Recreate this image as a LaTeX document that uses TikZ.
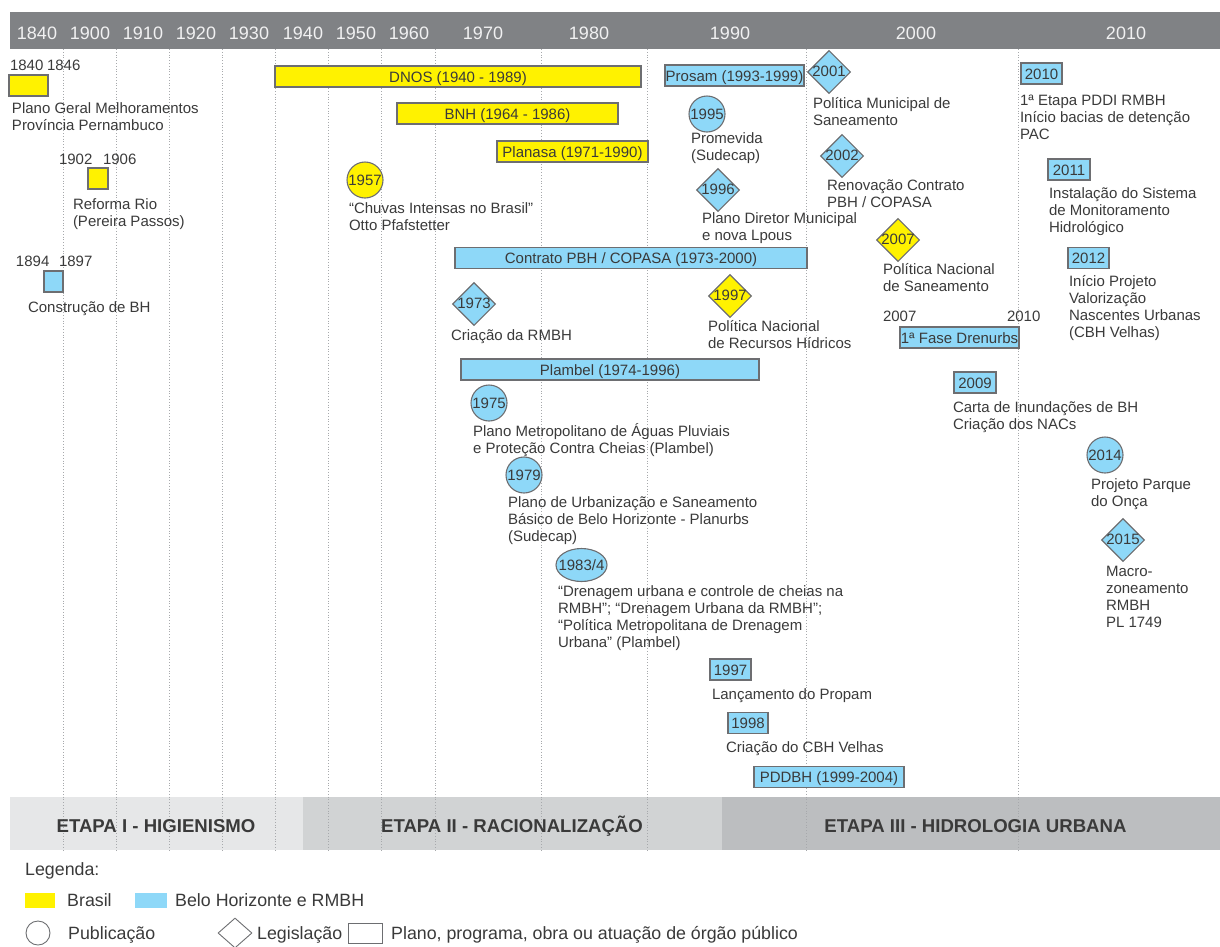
\documentclass[tikz,border=0pt]{standalone}
\usepackage{fontspec}
\setmainfont{Liberation Sans}
\usetikzlibrary{shapes.geometric}
\definecolor{yel}{HTML}{FFF200}
\definecolor{blu}{HTML}{8ED8F8}
\definecolor{edgec}{HTML}{6D6E71}
\definecolor{txtc}{HTML}{3A3A3A}
\definecolor{hdr}{HTML}{808285}
\definecolor{hdrtxt}{HTML}{F1F1F2}
\definecolor{bandA}{HTML}{E6E7E8}
\definecolor{bandB}{HTML}{D1D3D4}
\definecolor{bandC}{HTML}{BCBEC0}
\definecolor{gridc}{HTML}{A7A9AC}
\newcommand\bodyfont{\fontsize{15}{17}\selectfont}
\newcommand\legfont{\fontsize{17.8}{20}\selectfont}
\newcommand\mlines[1]{\begin{tabular}[t]{@{}l@{}}#1\end{tabular}}
\tikzset{
 txt/.style={anchor=base west, inner sep=0pt, outer sep=0pt, text=txtc, font=\bodyfont},
 shp/.style={draw=edgec, line width=1.1pt, inner sep=0pt, text=txtc, font=\bodyfont, text height=11pt, text depth=0pt},
 ysh/.style={shp, fill=yel},
 bsh/.style={shp, fill=blu},
 rbox/.style 2 args={rectangle, minimum width=#1 pt, minimum height=#2 pt},
 circ/.style={circle, minimum size=36pt},
 dia/.style={diamond, minimum width=43pt, minimum height=43pt, text height=9pt},
 gridline/.style={gridc, dotted, line width=0.8pt},
 hyear/.style={anchor=base, text=hdrtxt, font=\fontsize{18}{20}\selectfont, inner sep=0pt},
 etapa/.style={anchor=base, text=txtc, font=\fontsize{18.6}{20}\selectfont\bfseries, inner sep=0pt},
 leg/.style={anchor=base west, text=txtc, font=\legfont, inner sep=0pt},
 legshape/.style={draw=edgec, line width=0.9pt, inner sep=0pt}
}
\begin{document}
\begin{tikzpicture}[x=1pt,y=-1pt]
\useasboundingbox (0,0) rectangle (1220,946);
% stage band
\fill[bandA] (10,797) rectangle (303,850);
\fill[bandB] (303,797) rectangle (722,850);
\fill[bandC] (722,797) rectangle (1220,850);
% grid
\foreach \gx in {63,116,169,222,275,328,381,435,541,647,806,1018}
  \draw[gridline] (\gx,49) -- (\gx,850);
% header
\fill[hdr] (10,12) rectangle (1220,49);
\node[hyear] (h1840) at (37,39) {1840};
\node[hyear] (h1900) at (90,39) {1900};
\node[hyear] (h1910) at (143,39) {1910};
\node[hyear] (h1920) at (196,39) {1920};
\node[hyear] (h1930) at (249,39) {1930};
\node[hyear] (h1940) at (303,39) {1940};
\node[hyear] (h1950) at (356,39) {1950};
\node[hyear] (h1960) at (409,39) {1960};
\node[hyear] (h1970) at (483,39) {1970};
\node[hyear] (h1980) at (589,39) {1980};
\node[hyear] (h1990) at (730,39) {1990};
\node[hyear] (h2000) at (916,39) {2000};
\node[hyear] (h2010) at (1126,39) {2010};

% left column
\node[txt] (y1840) at (10,70) {1840};
\node[txt] (y1846) at (47,70) {1846};
\node[ysh, rbox={39}{21}] (pg) at (28.5,85.5) {};
\node[txt] (pgt) at (12,113.5) {\mlines{Plano Geral Melhoramentos\\Província Pernambuco}};
\node[txt] (y1902) at (59,164) {1902};
\node[txt] (y1906) at (103,164) {1906};
\node[ysh, rbox={20}{21}] (rr) at (98,178.5) {};
\node[txt] (rrt) at (73,209.5) {\mlines{Reforma Rio\\(Pereira Passos)}};
\node[txt] (y1894) at (16,266) {1894};
\node[txt] (y1897) at (59,266) {1897};
\node[bsh, rbox={19}{21}] (cb) at (53.5,281.5) {};
\node[txt] (cbt) at (28,312.5) {Construção de BH};

% long bars
\node[ysh, rbox={366}{21}] (dnos) at (458,76.5) {DNOS (1940 - 1989)};
\node[ysh, rbox={221}{21}] (bnh) at (507.5,113.5) {BNH (1964 - 1986)};
\node[ysh, rbox={151}{21}] (planasa) at (572.5,151.5) {Planasa (1971-1990)};
\node[bsh, rbox={139}{21}] (prosam) at (734.5,75.5) {Prosam (1993-1999)};
\node[bsh, rbox={352}{21}] (contrato) at (631,258) {Contrato PBH / COPASA (1973-2000)};
\node[bsh, rbox={298}{21}] (plambel) at (610,369.5) {Plambel (1974-1996)};
\node[bsh, rbox={119}{21}] (drenurbs) at (959.5,337.5) {1ª Fase Drenurbs};
\node[bsh, rbox={150}{21}] (pddbh) at (829,777) {PDDBH (1999-2004)};

% middle events
\node[ysh, circ] (c1957) at (365,180) {1957};
\node[txt] (c1957t) at (349,213.5) {\mlines{“Chuvas Intensas no Brasil”\\Otto Pfafstetter}};
\node[bsh, circ] (c1995) at (707,114) {1995};
\node[txt] (c1995t) at (691,143.5) {\mlines{Promevida\\(Sudecap)}};
\node[bsh, dia] (d1996) at (718,190) {1996};
\node[txt] (d1996t) at (702,223.5) {\mlines{Plano Diretor Municipal\\e nova Lpous}};
\node[bsh, dia] (d1973) at (474,304) {1973};
\node[txt] (d1973t) at (451,340.5) {Criação da RMBH};
\node[ysh, dia] (d1997) at (730,296) {1997};
\node[txt] (d1997t) at (708,331.5) {\mlines{Política Nacional\\de Recursos Hídricos}};
\node[bsh, circ] (c1975) at (489,403) {1975};
\node[txt] (c1975t) at (473,436.5) {\mlines{Plano Metropolitano de Águas Pluviais\\e Proteção Contra Cheias (Plambel)}};
\node[bsh, circ] (c1979) at (524,475) {1979};
\node[txt] (c1979t) at (508,507.5) {\mlines{Plano de Urbanização e Saneamento\\Básico de Belo Horizonte - Planurbs\\(Sudecap)}};
\node[bsh, ellipse, minimum width=51pt, minimum height=33pt, label={[text=txtc, font=\bodyfont, inner sep=0pt]center:1983/4}] (e1983) at (581.5,565) {};
\node[txt] (e1983t) at (558,596.5) {\mlines{“Drenagem urbana e controle de cheias na\\RMBH”; “Drenagem Urbana da RMBH”;\\“Política Metropolitana de Drenagem\\Urbana” (Plambel)}};
\node[bsh, rbox={41}{21}] (r1997) at (730.5,669.5) {1997};
\node[txt] (r1997t) at (712,699.5) {Lançamento do Propam};
\node[bsh, rbox={40}{21}] (r1998) at (748,723) {1998};
\node[txt] (r1998t) at (726,752.5) {Criação do CBH Velhas};

% right events
\node[bsh, dia] (d2001) at (829,72) {2001};
\node[txt] (d2001t) at (813,108.5) {\mlines{Política Municipal de\\Saneamento}};
\node[bsh, dia] (d2002) at (842,156) {2002};
\node[txt] (d2002t) at (827,190.5) {\mlines{Renovação Contrato\\PBH / COPASA}};
\node[ysh, dia] (d2007) at (898,240) {2007};
\node[txt] (d2007t) at (883,274.5) {\mlines{Política Nacional\\de Saneamento}};
\node[txt] (y2007) at (883,321) {2007};
\node[txt] (y2010) at (1007,321) {2010};
\node[bsh, rbox={42}{21}] (r2009) at (975,382.5) {2009};
\node[txt] (r2009t) at (953,412.5) {\mlines{Carta de Inundações de BH\\Criação dos NACs}};
\node[bsh, rbox={41}{21}] (r2010) at (1041.5,73.5) {2010};
\node[txt] (r2010t) at (1020,105.5) {\mlines{1ª Etapa PDDI RMBH\\Início bacias de detenção\\PAC}};
\node[bsh, rbox={42}{21}] (r2011) at (1069,169.5) {2011};
\node[txt] (r2011t) at (1049,198.5) {\mlines{Instalação do Sistema\\de Monitoramento\\Hidrológico}};
\node[bsh, rbox={41}{21}] (r2012) at (1088.5,258) {2012};
\node[txt] (r2012t) at (1069,286.5) {\mlines{Início Projeto\\Valorização\\Nascentes Urbanas\\(CBH Velhas)}};
\node[bsh, circ] (c2014) at (1105,455) {2014};
\node[txt] (c2014t) at (1091,489.5) {\mlines{Projeto Parque\\do Onça}};
\node[bsh, dia] (d2015) at (1123,540) {2015};
\node[txt] (d2015t) at (1106,576.5) {\mlines{Macro-\\zoneamento\\RMBH\\PL 1749}};

% stage labels
\node[etapa] (et1) at (156,832) {ETAPA I - HIGIENISMO};
\node[etapa] (et2) at (512,832) {ETAPA II - RACIONALIZAÇÃO};
\node[etapa] (et3) at (975.5,832) {ETAPA III - HIDROLOGIA URBANA};

% legend
\node[leg] (legt) at (25,875) {Legenda:};
\node[fill=yel, minimum width=30pt, minimum height=15pt, inner sep=0pt] (lyel) at (40,900.5) {};
\node[leg] (lbr) at (67,906) {Brasil};
\node[fill=blu, minimum width=32pt, minimum height=15pt, inner sep=0pt] (lblu) at (151,900.5) {};
\node[leg] (lbh) at (175,906) {Belo Horizonte e RMBH};
\node[legshape, circle, minimum size=24pt] (lcirc) at (38,933) {};
\node[leg] (lpub) at (68,939) {Publicação};
\node[legshape, diamond, minimum width=34pt, minimum height=30pt] (ldia) at (235,933) {};
\node[leg] (lleg) at (257,939) {Legislação};
\node[legshape, rectangle, minimum width=34pt, minimum height=20pt] (lrect) at (365,933) {};
\node[leg] (lpla) at (391,939) {Plano, programa, obra ou atuação de órgão público};
\end{tikzpicture}
\end{document}
